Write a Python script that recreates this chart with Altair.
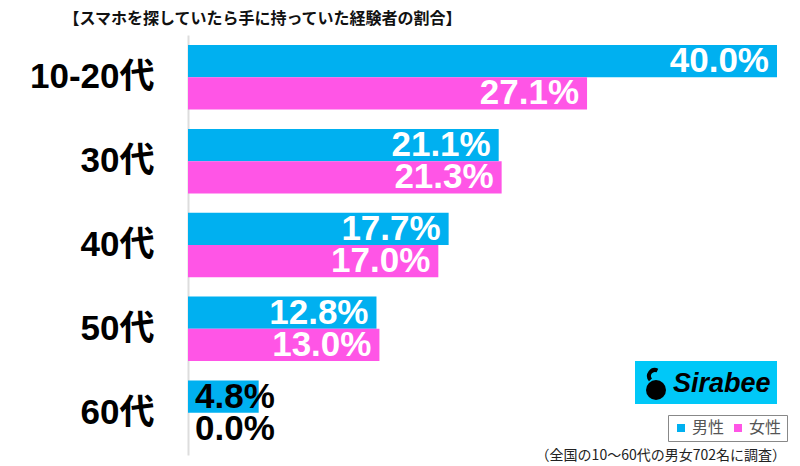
import altair as alt
import pandas as pd

ages = ["10-20代", "30代", "40代", "50代", "60代"]
series = ["男性", "女性"]
male = [40.0, 21.1, 17.7, 12.8, 4.8]
female = [27.1, 21.3, 17.0, 13.0, 0.0]
colors = ["#00B0F0", "#FF55E6"]

title_text = "【スマホを探していたら手に持っていた経験者の割合】"
note_text = "（全国の10～60代の男女702名に調査）"
logo_text = "Sirabee"

rows = []
for a, m, f in zip(ages, male, female):
    rows.append({"age": a, "sex": "男性", "v": m, "lab": f"{m:.1f}%"})
    rows.append({"age": a, "sex": "女性", "v": f, "lab": f"{f:.1f}%"})
df = pd.DataFrame(rows)

FONT = "Liberation Sans, Noto Sans CJK JP"

y_enc = alt.Y("age:N", sort=ages,
              scale=alt.Scale(paddingInner=0.23, paddingOuter=0.12),
              axis=alt.Axis(title=None, ticks=False, domainColor="#DDDDDD", domainWidth=2,
                            labelFontSize=35, labelFontWeight="bold", labelColor="#000000",
                            labelFont=FONT, labelPadding=34))
yoff = alt.YOffset("sex:N", sort=series)
x_scale = alt.Scale(domain=[0, 40])

base = alt.Chart(df)

bars = base.mark_bar().encode(
    x=alt.X("v:Q", scale=x_scale, axis=None),
    y=y_enc,
    yOffset=yoff,
    color=alt.Color("sex:N", sort=series,
                    scale=alt.Scale(domain=series, range=colors),
                    legend=alt.Legend(title=None, orient="none", legendX=480, legendY=380,
                                      direction="horizontal", strokeColor="#888888",
                                      padding=5, symbolType="square", symbolSize=64,
                                      symbolStrokeWidth=0, labelFontSize=16,
                                      labelColor="#555555", labelFont="Noto Sans CJK JP",
                                      columnPadding=5, labelOffset=3)),
)

txt_in = base.transform_filter("datum.v >= 10").mark_text(
    align="right", baseline="middle", dx=-8, fontSize=35, fontWeight="bold",
    font=FONT, color="white"
).encode(x=alt.X("v:Q", scale=x_scale), y=alt.Y("age:N", sort=ages), yOffset=yoff, text="lab:N")

txt_out = base.transform_filter("datum.v < 10").transform_calculate(zero="0").mark_text(
    align="left", baseline="middle", dx=7, fontSize=35, fontWeight="bold",
    font=FONT, color="black"
).encode(x=alt.X("zero:Q", scale=x_scale),
         y=alt.Y("age:N", sort=ages), yOffset=yoff, text="lab:N")

one = alt.Chart(pd.DataFrame({"t": [logo_text]}))

logo_box = one.mark_rect(color="#00C8F8").encode(
    x=alt.value(447), x2=alt.value(589), y=alt.value(326), y2=alt.value(369))
logo_txt = one.mark_text(align="left", baseline="middle", fontSize=27, fontWeight="bold",
                         fontStyle="italic", font="Liberation Sans", color="black").encode(
    x=alt.value(485), y=alt.value(349), text="t:N")
logo_dot = one.mark_point(filled=True, shape="circle", size=400, color="black", opacity=1).encode(
    x=alt.value(468), y=alt.value(355))
logo_hook = one.mark_arc(color="black", radius=8, radius2=4, theta=4.0, theta2=6.7).encode(
    x=alt.value(467), y=alt.value(341))

note = alt.Chart(pd.DataFrame({"t": [note_text]})).mark_text(
    align="right", baseline="middle", fontSize=14, font="Noto Sans CJK JP", color="#222222"
).encode(x=alt.value(598), y=alt.value(421), text="t:N")

chart = alt.layer(bars, txt_in, txt_out, logo_box, logo_txt, logo_dot, logo_hook, note).properties(
    width=589, height=420,
    autosize=alt.AutoSizeParams(type="none"),
    padding={"left": 188, "top": 35, "right": 23, "bottom": 11},
    title=alt.TitleParams(title_text, anchor="middle", dx=-220, fontSize=16, fontWeight="bold",
                          font="Noto Sans CJK JP", color="#111111", offset=8),
).configure_view(stroke=None).configure_axisX(grid=False)

chart.save("out.html", embed_options={"renderer": "svg", "actions": False})
